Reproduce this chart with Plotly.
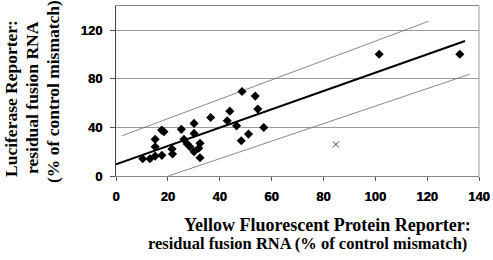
import plotly.graph_objects as go

# Data
yfp = [10.3, 13.1, 15.1, 17.7, 15.1, 15.1, 17.6, 18.5, 21.6, 21.8,
       25.2, 26.2, 27.5, 28.5, 30.1, 30.1, 30.1, 31.9, 32.4, 32.4,
       36.5, 42.9, 43.9, 46.5, 48.3, 48.6, 51.1, 53.7, 54.7, 57.0,
       101.5, 132.6]
luc = [14.2, 14.2, 16.4, 17.0, 24.1, 30.2, 37.8, 36.4, 22.2, 18.1,
       38.4, 30.2, 26.3, 24.1, 43.3, 35.1, 20.0, 22.8, 26.9, 15.0,
       48.2, 45.5, 53.4, 41.3, 29.0, 69.6, 34.5, 65.8, 55.1, 40.0,
       100.3, 100.3]
outlier_x = [84.8]
outlier_y = [26.0]

fit_x = [0.0, 134.6]
fit_y = [9.6, 111.2]
upper_x = [2.3, 120.5]
upper_y = [33.1, 127.4]
lower_x = [20.2, 136.4]
lower_y = [0.0, 83.8]

x_ticks = [0, 20, 40, 60, 80, 100, 120, 140]
y_ticks = [0, 40, 80, 120]

fig = go.Figure()
fig.add_trace(go.Scatter(x=upper_x, y=upper_y, mode="lines",
                         line=dict(color="#6a6a6a", width=0.8), hoverinfo="skip"))
fig.add_trace(go.Scatter(x=lower_x, y=lower_y, mode="lines",
                         line=dict(color="#6a6a6a", width=0.8), hoverinfo="skip"))
fig.add_trace(go.Scatter(x=fit_x, y=fit_y, mode="lines",
                         line=dict(color="black", width=2), hoverinfo="skip"))
fig.add_trace(go.Scatter(x=yfp, y=luc, mode="markers",
                         marker=dict(symbol="diamond", size=7, color="black",
                                     line=dict(width=0))))
fig.add_trace(go.Scatter(x=outlier_x, y=outlier_y, mode="markers",
                         marker=dict(symbol="x-thin-open", size=6, color="#444",
                                     line=dict(color="#444", width=1))))

tickfont = dict(family="Liberation Sans", size=13, color="black", weight=900,
                shadow="0.35px 0px 0px black")
ytitlefont = dict(family="Liberation Serif", size=17.5, color="black", weight="bold")


def px_x(p):
    return (p - 116) / 363


def px_y(p):
    return (176 - p) / 170


fig.update_layout(
    width=493, height=260,
    margin=dict(l=116, r=14, t=6, b=84, autoexpand=False),
    paper_bgcolor="white", plot_bgcolor="white",
    showlegend=False,
    xaxis=dict(range=[0, 140], tickvals=x_ticks,
               ticktext=[str(v) for v in x_ticks],
               ticks="outside", ticklen=4, ticklabelstandoff=4,
               ticklabeloverflow="allow",
               tickcolor="#555", showgrid=False, zeroline=False,
               showline=True, linecolor="#888", linewidth=1, mirror=True,
               tickfont=tickfont, automargin=False),
    yaxis=dict(range=[0, 140], tickvals=y_ticks,
               ticktext=[str(v) for v in y_ticks],
               ticks="outside", ticklen=5, ticklabelstandoff=5,
               tickcolor="#555", showgrid=True, gridcolor="#9a9a9a",
               gridwidth=1, zeroline=False,
               showline=True, linecolor="#444", linewidth=1,
               tickfont=tickfont, automargin=False),
    shapes=[dict(type="line", xref="paper", yref="paper", x0=1, x1=1,
                 y0=0, y1=1, line=dict(color="#999", width=1))],
)

# Y axis title (three rotated lines)
ytitle_lines = ["Luciferase Reporter:", "residual fusion RNA",
                "(% of control mismatch)"]
ytitle_cx = [11, 32, 53]
ytitle_cy = [99, 98, 92]
for txt, cx, cy in zip(ytitle_lines, ytitle_cx, ytitle_cy):
    fig.add_annotation(text=txt, xref="paper", yref="paper",
                       x=px_x(cx), y=px_y(cy),
                       xanchor="center", yanchor="middle",
                       textangle=-90, showarrow=False, font=ytitlefont)

# X axis title (two lines)
xtitle_lines = ["Yellow Fluorescent Protein Reporter:",
                "residual fusion RNA (% of control mismatch)"]
xtitle_cx = [327, 307.5]
xtitle_cy = [224.9, 243.4]
xtitle_size = [18, 16.5]
for txt, cx, cy, sz in zip(xtitle_lines, xtitle_cx, xtitle_cy, xtitle_size):
    fig.add_annotation(text=txt, xref="paper", yref="paper",
                       x=px_x(cx), y=px_y(cy),
                       xanchor="center", yanchor="middle",
                       showarrow=False,
                       font=dict(family="Liberation Serif", size=sz,
                                 color="black", weight="bold"))

fig.write_html(
    "out.html",
    config={"displayModeBar": False},
    post_script="document.body.style.margin='0';document.body.style.padding='0';",
)
